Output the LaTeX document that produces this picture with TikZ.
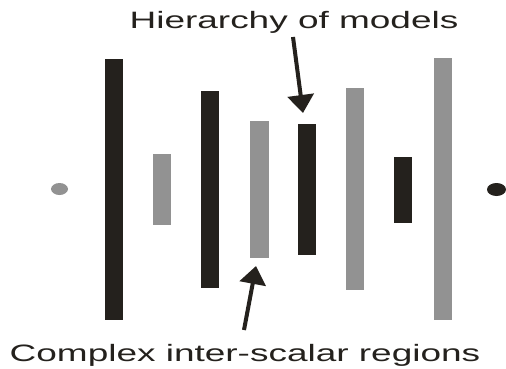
\documentclass[tikz,border=0pt]{standalone}
\usepackage{fontspec}
\setmainfont{Liberation Sans}
\usetikzlibrary{arrows.meta}
\definecolor{barblack}{RGB}{36,33,29}
\definecolor{bargray}{RGB}{146,146,146}
\begin{document}
\begin{tikzpicture}[x=1pt,y=-1pt,
  darkbar/.style={fill=barblack},
  lightbar/.style={fill=bargray},
  caption/.style={inner sep=0pt, anchor=base, text=barblack,
    font=\fontsize{23.7}{28}\selectfont},
  pointer/.style={draw=barblack, line width=4pt,
    -{Triangle[length=18pt,width=26pt]}}]
\useasboundingbox (0,0) rectangle (506,369);
% end points of the scale range
\fill[lightbar] (59.5,189) ellipse [x radius=8.5, y radius=6];
\fill[darkbar] (496.5,189.5) ellipse [x radius=9.5, y radius=6.5];
% nested model bars
\fill[darkbar]  (105,59)  rectangle (123,320);
\fill[lightbar] (153,154) rectangle (171,225);
\fill[darkbar]  (201,91)  rectangle (219,288);
\fill[lightbar] (250,121) rectangle (269,258);
\fill[darkbar]  (298,124) rectangle (316,255);
\fill[lightbar] (346,88)  rectangle (364,290);
\fill[darkbar]  (394,157) rectangle (412,223);
\fill[lightbar] (434,58)  rectangle (452,320);
% captions
\node[caption] (hier) at (294,29) {\scalebox{1.56}[1]{Hierarchy of models}};
\node[caption] (inter) at (245,361) {\scalebox{1.56}[1]{Complex inter-scalar regions}};
% pointers
\coordinate (hierTail) at (293,37);
\coordinate (hierTip) at (303,113);
\coordinate (interTail) at (244,330);
\coordinate (interTip) at (256,266);
\draw[pointer] (hierTail) -- (hierTip);
\draw[pointer] (interTail) -- (interTip);
\end{tikzpicture}
\end{document}
